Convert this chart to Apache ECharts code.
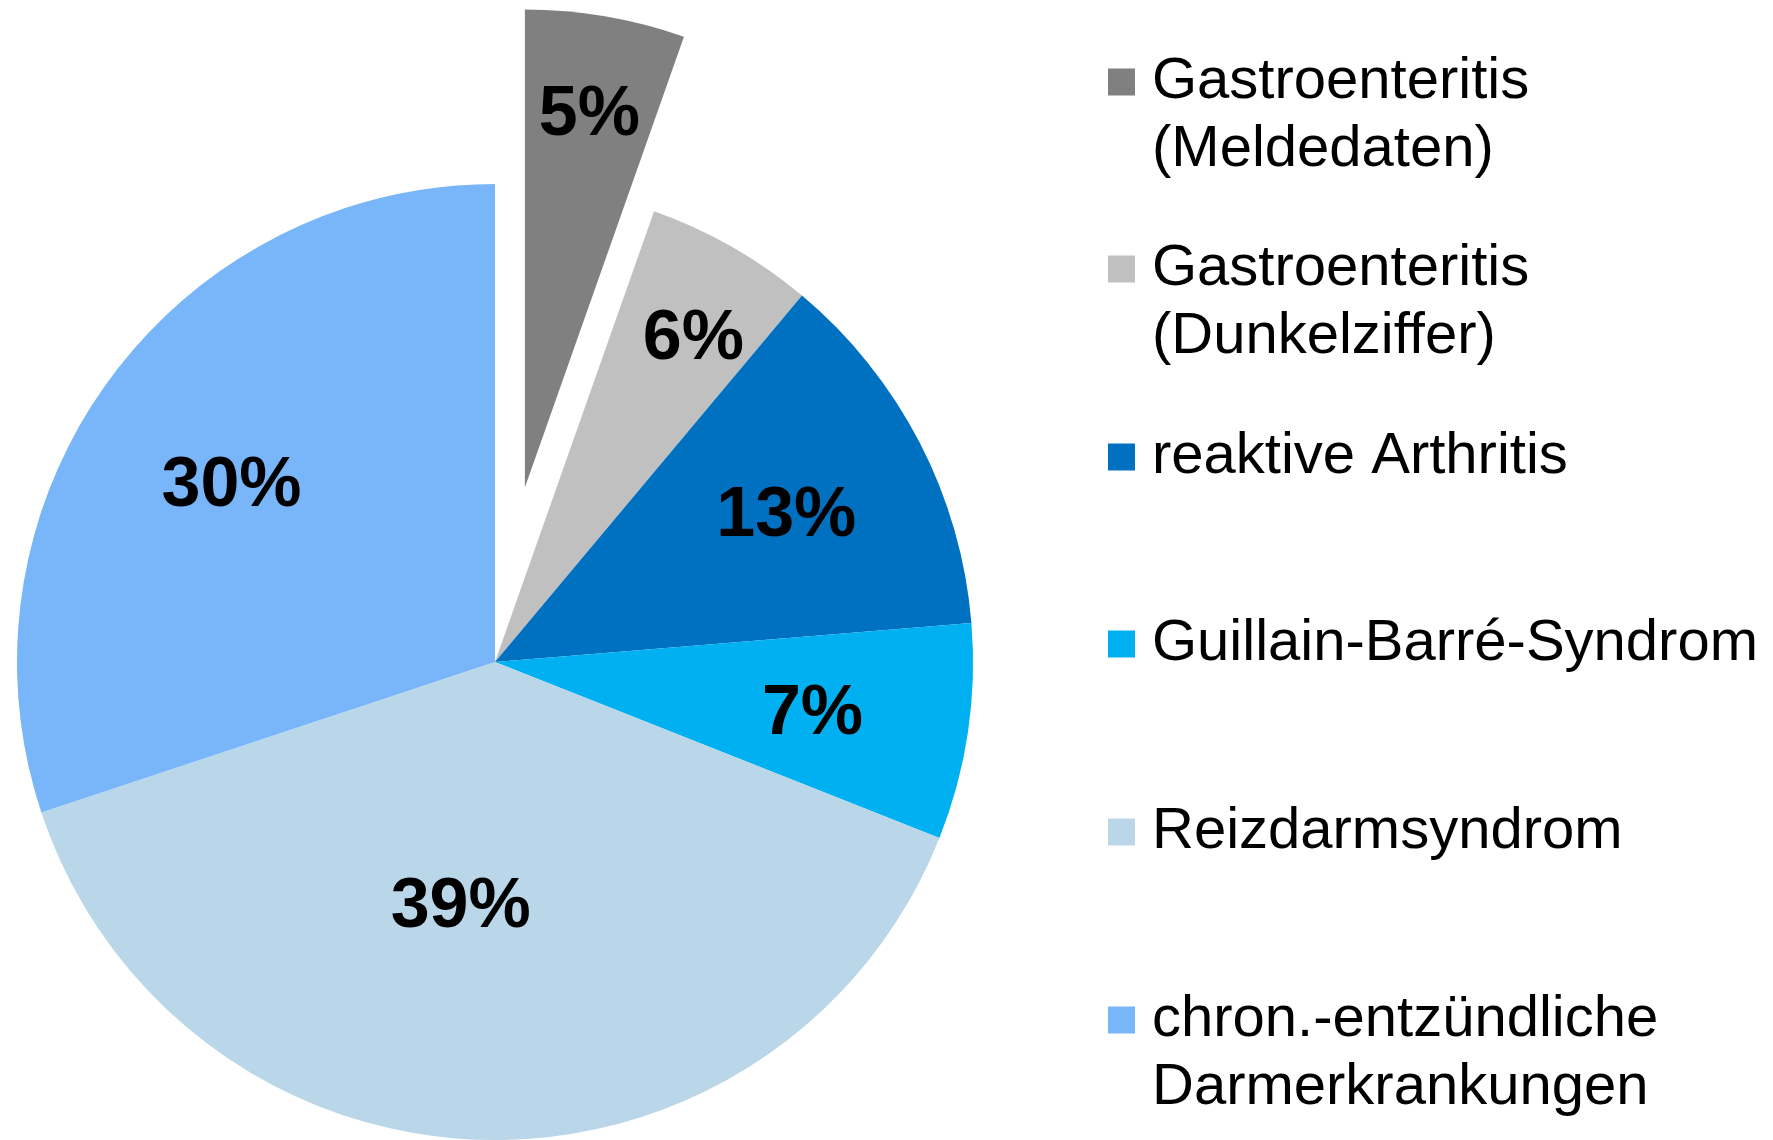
<!DOCTYPE html>
<html>
<head>
<meta charset="utf-8">
<script src="https://cdn.jsdelivr.net/npm/echarts@6/dist/echarts.min.js"></script>
<style>
  html, body { margin: 0; padding: 0; background: #fff; }
  #pieChart { width: 1773px; height: 1140px; }
</style>
</head>
<body>
<div id="pieChart"></div>
<script>
// data (percent of cases)
const categories = [
  'Gastroenteritis\n(Meldedaten)',
  'Gastroenteritis\n(Dunkelziffer)',
  'reaktive Arthritis',
  'Guillain-Barré-Syndrom',
  'Reizdarmsyndrom',
  'chron.-entzündliche\nDarmerkrankungen'
];
const shares = [5.4, 5.7, 12.6, 7.3, 38.9, 30.1];
const colors = ['#808080', '#c0c0c0', '#0070c0', '#00b0f0', '#bad7ea', '#78b5f9'];
const explodedIndex = 0;

// layout
const cx = 495, cy = 662, radius = 478, explodeOffset = 177;
const labelDist = [559, 383, 328, 321, 243, 319];   // label distance from pie centre
const labelTurn = [0, 1.5, 0, 0, 6.5, -1.5];        // small angular nudge (deg)
const legendCenters = [82, 269, 457, 644, 832, 1020];
const lineH = 68;

let myChart = echarts.init(document.getElementById('pieChart'));

const labelFont = {
  fontFamily: 'Liberation Sans, Arial, sans-serif',
  fontSize: 70,
  fontWeight: 'bold',
  color: '#000'
};

let option = {
  animation: false,
  color: colors,
  legend: categories.map((name, i) => {
    const extra = name.split('\n').length - 1;
    return {
      data: [name],
      // blank first line keeps the icon level with the first text line
      formatter: n => (extra ? '\n' : '') + n,
      left: 1108,
      top: legendCenters[i] - lineH / 2 - lineH * extra,
      padding: 0,
      icon: 'rect',
      itemWidth: 27,
      itemHeight: 27,
      selectedMode: false,
      textStyle: {
        fontFamily: 'Liberation Sans, Arial, sans-serif',
        fontSize: 58,
        lineHeight: lineH,
        color: '#000',
        padding: [0, 0, 0, 12]
      }
    };
  }),
  series: [{
    // the slices
    type: 'pie',
    center: [cx, cy],
    radius: radius,
    startAngle: 90,
    clockwise: true,
    selectedMode: 'single',
    selectedOffset: explodeOffset,
    emphasis: { disabled: true },
    label: { show: false },
    labelLine: { show: false },
    data: categories.map((name, i) => ({
      name: name,
      value: shares[i],
      selected: i === explodedIndex
    }))
  }, {
    // same pie, invisible, only carrying the percent labels
    type: 'pie',
    center: [cx, cy],
    radius: radius,
    startAngle: 90,
    clockwise: true,
    silent: true,
    selectedMode: false,
    percentPrecision: 0,
    itemStyle: { color: 'rgba(0,0,0,0)' },
    emphasis: { disabled: true },
    labelLine: { show: false },
    label: Object.assign({ show: true, position: 'inside', formatter: '{d}%' }, labelFont),
    labelLayout: function (params) {
      const i = params.dataIndex;
      const r = params.labelRect;
      const lx = r.x + r.width / 2, ly = r.y + r.height / 2;
      const th = Math.atan2(lx - cx, cy - ly) + labelTurn[i] * Math.PI / 180;
      return {
        x: cx + labelDist[i] * Math.sin(th),
        y: cy - labelDist[i] * Math.cos(th) + 5
      };
    },
    data: categories.map((name, i) => ({ name: name, value: shares[i] }))
  }]
};

myChart.setOption(option);
</script>
</body>
</html>
